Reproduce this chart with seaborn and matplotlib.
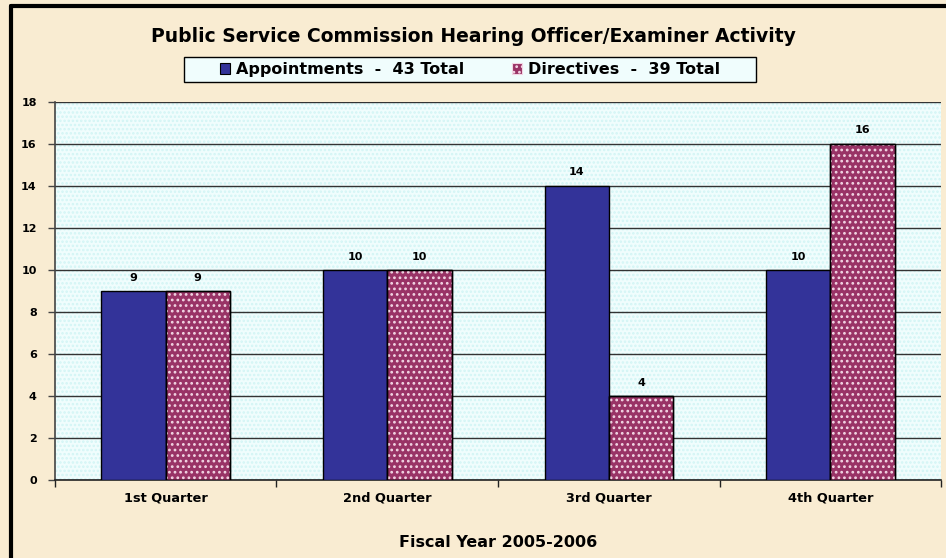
import matplotlib
matplotlib.use("Agg")
import matplotlib.pyplot as plt
import seaborn as sns
import pandas as pd
from matplotlib.patches import Rectangle

# chart data
quarters = ["1st Quarter", "2nd Quarter", "3rd Quarter", "4th Quarter"]
appointments = [9, 10, 14, 10]
directives = [9, 10, 4, 16]
series_names = ["Appointments  -  43 Total", "Directives  -  39 Total"]
y_ticks = [0, 2, 4, 6, 8, 10, 12, 14, 16, 18]

df = pd.DataFrame({
    "Quarter": quarters * 2,
    "Count": appointments + directives,
    "Series": [series_names[0]] * 4 + [series_names[1]] * 4,
})

sns.set_theme(style="white")
plt.rcParams["font.family"] = ["DejaVu Sans"]
plt.rcParams["text.color"] = "black"
plt.rcParams["xtick.color"] = "black"
plt.rcParams["ytick.color"] = "black"
plt.rcParams["axes.labelcolor"] = "black"
plt.rcParams["hatch.linewidth"] = 1.2

fig = plt.figure(figsize=(9.46, 5.58), dpi=100, facecolor="#F9ECD2")
ax = fig.add_axes([0.058, 0.139, 0.937, 0.679])
ax.set_facecolor("#F0FDFD")

# dotted plot background
ax.add_patch(Rectangle((0, 0), 1, 1, transform=ax.transAxes, facecolor="none",
                       edgecolor="#D2F5F5", hatch="....", lw=0, zorder=0))

palette = {series_names[0]: "#333399", series_names[1]: "#993366"}
sns.barplot(data=df, x="Quarter", y="Count", hue="Series", palette=palette,
            width=0.58, saturation=1, edgecolor="black", linewidth=1.0,
            ax=ax, legend=False, zorder=3)

# white dot pattern on the Directives bars
for bar in ax.containers[1]:
    ax.add_patch(Rectangle(bar.get_xy(), bar.get_width(), bar.get_height(),
                           facecolor="none", edgecolor="#F2D6E4", hatch="...",
                           lw=0, zorder=3.5))
    ax.add_patch(Rectangle(bar.get_xy(), bar.get_width(), bar.get_height(),
                           facecolor="none", edgecolor="black", lw=1.0, zorder=4))

for cont in ax.containers:
    ax.bar_label(cont, padding=6, fontsize=8, fontweight="bold", zorder=5)

ax.set_ylim(0, 18)
ax.set_yticks(y_ticks)
ax.set_xlim(-0.5, 3.5)
ax.yaxis.grid(True, color="#333333", lw=1.0, zorder=1)
ax.set_axisbelow(True)
for s in ["top", "right"]:
    ax.spines[s].set_visible(False)
ax.spines["left"].set_color("#444444")
ax.spines["bottom"].set_color("#222222")
ax.spines["left"].set_linewidth(1.2)
ax.spines["bottom"].set_linewidth(1.2)

ax.tick_params(axis="y", left=True, length=5, width=1, color="#444444",
               labelsize=8, pad=8)
ax.tick_params(axis="x", bottom=True, length=0, labelsize=9.3, pad=8)
for lbl in ax.get_xticklabels() + ax.get_yticklabels():
    lbl.set_fontweight("bold")
# category separator ticks on the x axis
ax.set_xticks([-0.5, 0.5, 1.5, 2.5, 3.5], minor=True)
ax.tick_params(axis="x", which="minor", bottom=True, length=5, width=1,
               color="#222222")

ax.set_xlabel("Fiscal Year 2005-2006", fontsize=11.5, fontweight="bold",
              labelpad=22)
ax.set_ylabel("")

fig.text(0.5005, 0.934, "Public Service Commission Hearing Officer/Examiner Activity",
         ha="center", va="center", fontsize=13.5, fontweight="bold")

# legend box, drawn by hand for the wide side padding
fig.add_artist(Rectangle((184 / 946, 1 - 82 / 558), 572 / 946, 25 / 558,
                         transform=fig.transFigure, facecolor="#F0FDFD",
                         edgecolor="black", lw=1.0, zorder=1))
handles = [Rectangle((0, 0), 1, 1, facecolor="#333399", edgecolor="black", lw=0.8),
           Rectangle((0, 0), 1, 1, facecolor="#993366", edgecolor="#F2D6E4",
                     hatch="...", lw=0.8)]
leg = fig.legend(handles, series_names, loc="center", bbox_to_anchor=(0.4968, 0.8754),
                 ncol=2, frameon=False, handlelength=0.62,
                 handleheight=0.62, handletextpad=0.36, columnspacing=3.0,
                 borderpad=0.2, prop={"weight": "bold", "size": 11.5})
leg.set_zorder(2)

# outer black frame (top and left edges)
fig.add_artist(plt.Line2D([0.0115, 1.0], [0.9885, 0.9885], color="black", lw=3,
                          transform=fig.transFigure))
fig.add_artist(plt.Line2D([0.0115, 0.0115], [0.0, 0.9885], color="black", lw=3,
                          transform=fig.transFigure))

fig.savefig("out.png", dpi=100, facecolor=fig.get_facecolor())
